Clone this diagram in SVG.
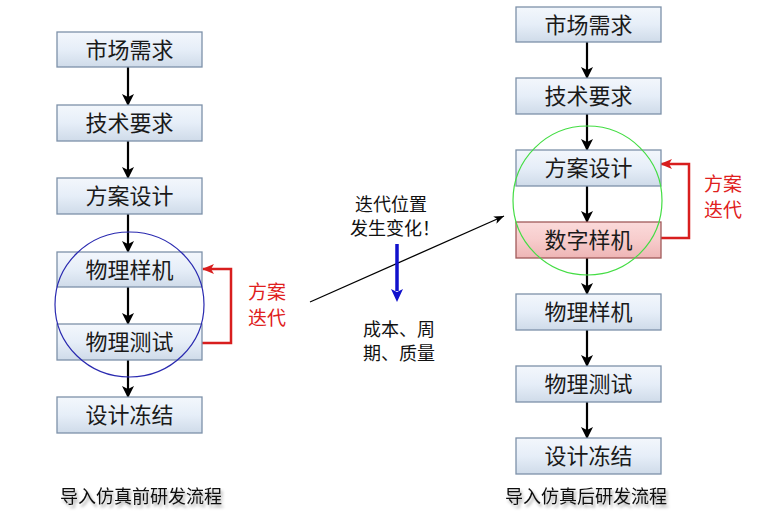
<svg xmlns="http://www.w3.org/2000/svg" width="766" height="531" viewBox="0 0 766 531">
<style>
.box{fill:url(#gBlue);stroke:#7d91a9;stroke-width:1.3}
.boxr{fill:url(#gRed);stroke:#a05a5a;stroke-width:1.3}
.t{font-family:"Noto Sans CJK SC","Noto Sans CJK JP",sans-serif;font-size:22px;fill:#1a1a1a;text-anchor:middle}
.red{font-family:"Noto Sans CJK SC",sans-serif;font-size:19px;fill:#e02020;text-anchor:middle}
.mid{font-family:"Noto Sans CJK SC",sans-serif;font-size:18px;fill:#111;text-anchor:middle}
.cap{font-family:"Noto Sans CJK SC",sans-serif;font-size:18px;fill:#111;text-anchor:middle}
.arr{stroke:#000;stroke-width:2.2;fill:none;marker-end:url(#mk)}
.fb{stroke:#d81e1e;stroke-width:2.5;fill:none;marker-end:url(#mr)}
</style>
<defs>
<linearGradient id="gBlue" x1="0" y1="0" x2="0" y2="1">
<stop offset="0" stop-color="#f3f7fc"/>
<stop offset="0.5" stop-color="#e6eef8"/>
<stop offset="1" stop-color="#cfdbe9"/>
</linearGradient>
<linearGradient id="gRed" x1="0" y1="0" x2="0" y2="1">
<stop offset="0" stop-color="#fbdada"/>
<stop offset="0.5" stop-color="#f7cccc"/>
<stop offset="1" stop-color="#eeb5b5"/>
</linearGradient>
<marker id="mk" markerWidth="12" markerHeight="12" refX="11" refY="6" orient="auto" markerUnits="userSpaceOnUse">
<path d="M0,0 L12,6 L0,12 L3,6 z" fill="#000"/>
</marker>
<marker id="mr" markerWidth="12" markerHeight="10" refX="11" refY="5" orient="auto" markerUnits="userSpaceOnUse">
<path d="M0,0 L12,5 L0,10 L3,5 z" fill="#d81e1e"/>
</marker>
<marker id="mt" markerWidth="10" markerHeight="8" refX="10" refY="4" orient="auto" markerUnits="userSpaceOnUse">
<path d="M0,0 L10,4 L0,8 L2.5,4 z" fill="#000"/>
</marker>
<filter id="sh" x="-10%" y="-30%" width="120%" height="160%">
<feGaussianBlur in="SourceAlpha" stdDeviation="1.5"/>
<feOffset dx="2" dy="3" result="b"/>
<feFlood flood-color="#000" flood-opacity="0.35"/>
<feComposite in2="b" operator="in"/>
<feMerge><feMergeNode/><feMergeNode in="SourceGraphic"/></feMerge>
</filter>
</defs>

<g id="connectors">
<line class="arr" x1="128" y1="67" x2="128" y2="105"/>
<line class="arr" x1="128" y1="141" x2="128" y2="178"/>
<line class="arr" x1="128" y1="214" x2="128" y2="252"/>
<line class="arr" x1="128" y1="287" x2="128" y2="324"/>
<line class="arr" x1="128" y1="360" x2="128" y2="397"/>
<polyline class="fb" points="202,343 231,343 231,269 203,269"/>

<line class="arr" x1="587" y1="42" x2="587" y2="78"/>
<line class="arr" x1="587" y1="114" x2="587" y2="150"/>
<line class="arr" x1="587" y1="186" x2="587" y2="222"/>
<line class="arr" x1="587" y1="258" x2="587" y2="294"/>
<line class="arr" x1="587" y1="330" x2="587" y2="366"/>
<line class="arr" x1="587" y1="402" x2="587" y2="438"/>
<polyline class="fb" points="661,238 689,238 689,164 661,164"/>

<line x1="310" y1="302" x2="504" y2="216" stroke="#000" stroke-width="1.3" marker-end="url(#mt)"/>
<line x1="397" y1="244" x2="397" y2="291" stroke="#1111cc" stroke-width="3.5"/>
<path d="M391,289 L397,302 L403,289 L397,292 z" fill="#1111cc"/>
</g>

<g id="left-market"><rect class="box" x="57" y="32" width="145" height="35"/><text class="t" x="129.5" y="57.5">市场需求</text></g>
<g id="left-tech"><rect class="box" x="57" y="105" width="145" height="36"/><text class="t" x="129.5" y="131">技术要求</text></g>
<g id="left-scheme"><rect class="box" x="57" y="178" width="145" height="36"/><text class="t" x="129.5" y="204">方案设计</text></g>
<g id="left-proto"><rect class="box" x="57" y="252" width="145" height="35"/><text class="t" x="129.5" y="277.5">物理样机</text></g>
<g id="left-test"><rect class="box" x="57" y="324" width="145" height="36"/><text class="t" x="129.5" y="350">物理测试</text></g>
<g id="left-freeze"><rect class="box" x="57" y="397" width="145" height="36"/><text class="t" x="129.5" y="423">设计冻结</text></g>
<g id="left-circle"><ellipse cx="129.5" cy="304.5" rx="74.5" ry="72.5" fill="none" stroke="#2a2ab0" stroke-width="1.2"/></g>
<g id="left-iter"><text class="red" x="267" y="299">方案<tspan x="267" dy="26">迭代</tspan></text></g>

<g id="right-market"><rect class="box" x="516" y="7" width="145" height="35"/><text class="t" x="588.5" y="32.5">市场需求</text></g>
<g id="right-tech"><rect class="box" x="516" y="78" width="145" height="36"/><text class="t" x="588.5" y="104">技术要求</text></g>
<g id="right-scheme"><rect class="box" x="516" y="150" width="145" height="36"/><text class="t" x="588.5" y="176">方案设计</text></g>
<g id="right-digital"><rect class="boxr" x="516" y="222" width="145" height="36"/><text class="t" x="588.5" y="248">数字样机</text></g>
<g id="right-proto"><rect class="box" x="516" y="294" width="145" height="36"/><text class="t" x="588.5" y="320">物理样机</text></g>
<g id="right-test"><rect class="box" x="516" y="366" width="145" height="36"/><text class="t" x="588.5" y="392">物理测试</text></g>
<g id="right-freeze"><rect class="box" x="516" y="438" width="145" height="36"/><text class="t" x="588.5" y="464">设计冻结</text></g>
<g id="right-circle"><circle cx="587.5" cy="200.5" r="74.5" fill="none" stroke="#44dd44" stroke-width="1.2"/></g>
<g id="right-iter"><text class="red" x="723" y="191">方案<tspan x="723" dy="26">迭代</tspan></text></g>

<g id="mid-text">
<text class="mid" x="391" y="211">迭代位置<tspan x="395" dy="24">发生变化！</tspan></text>
<text class="mid" x="399" y="336">成本、周<tspan x="399" dy="24">期、质量</tspan></text>
</g>

<g id="captions" filter="url(#sh)">
<text class="cap" x="141" y="503">导入仿真前研发流程</text>
<text class="cap" x="586" y="503">导入仿真后研发流程</text>
</g>
</svg>
